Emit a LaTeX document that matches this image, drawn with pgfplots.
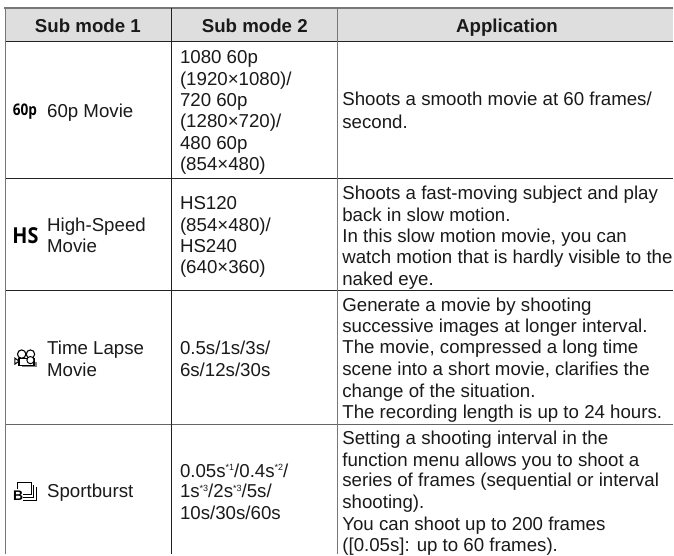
\documentclass[border=0pt]{standalone}
\usepackage{graphicx}
\usepackage{fontspec}
\setmainfont{Liberation Sans}
\newfontfamily\iconfont{Open Sans}
\usepackage{pgfplots}
\pgfplotsset{compat=1.18}
\definecolor{hdr}{HTML}{DEDEDE}
\definecolor{txt}{HTML}{1A1A1A}
\definecolor{dk}{HTML}{222222}
\definecolor{mid}{HTML}{777777}
\newcommand{\T}[3]{\node[anchor=base west,inner sep=0pt,text=txt,font=\fontsize{18.7}{21}\selectfont,yshift=-0.8pt] at (axis cs:#1,#2) {#3};}
\newcommand{\Hd}[3]{\node[anchor=base,inner sep=0pt,text=txt,font=\fontsize{18.7}{21}\selectfont\bfseries,yshift=-0.5pt] at (axis cs:#1,#2) {#3};}
\newcommand{\su}[1]{\raisebox{6.5pt}{\fontsize{9}{9}\selectfont *#1}}
\begin{document}
\begin{tikzpicture}
\begin{axis}[
  scale only axis, width=674pt, height=555pt,
  xmin=0, xmax=674, ymin=0, ymax=555, y dir=reverse,
  hide axis, clip=false]
% background
\addplot[draw=none, fill=white] coordinates {(0,0) (674,0) (674,555) (0,555)} -- cycle;
% header band
\addplot[draw=none, fill=hdr] coordinates {(5,8) (674,8) (674,41) (5,41)} -- cycle;
% horizontal rules
\addplot[draw=mid, line width=1.4pt] coordinates {(4,8) (674,8)};
\addplot[draw=dk, line width=1pt] coordinates {(5,41.5) (674,41.5)};
\addplot[draw=dk, line width=0.9pt] coordinates {(5,179) (674,179)};
\addplot[draw=dk, line width=0.9pt] coordinates {(5,291) (674,291)};
\addplot[draw=mid!85!black, line width=1pt] coordinates {(5,425) (674,425)};
% vertical rules
\addplot[draw=mid, line width=1.4pt] coordinates {(5.3,8) (5.3,555)};
\addplot[draw=dk, line width=0.9pt] coordinates {(171.5,8) (171.5,555)};
\addplot[draw=mid, line width=1.4pt] coordinates {(338,8) (338,555)};
% headers
\Hd{88}{32}{Sub mode 1}
\Hd{255}{32}{Sub mode 2}
\Hd{507.5}{32}{Application}
% column 1
\T{47}{116.7}{60p Movie}
\T{47}{231}{High-Speed}
\T{47}{252}{Movie}
\T{47}{354}{Time Lapse}
\T{47}{376}{Movie}
\T{47}{497.7}{Sportburst}
% column 2
\T{180}{63}{1080 60p}
\T{180}{84.5}{(1920×1080)/}
\T{180}{106}{720 60p}
\T{180}{127}{(1280×720)/}
\T{180}{148.5}{480 60p}
\T{180}{170}{(854×480)}
\T{180}{209}{HS120}
\T{180}{231}{(854×480)/}
\T{180}{252}{HS240}
\T{180}{273}{(640×360)}
\T{180}{354}{0.5s/1s/3s/}
\T{180}{376}{6s/12s/30s}
\T{180}{476.7}{0.05s\su{1}/0.4s\su{2}/}
\T{180}{497.7}{1s\su{3}/2s\su{3}/5s/}
\T{180}{519}{10s/30s/60s}
% column 3
\T{342.5}{105}{Shoots a smooth movie at 60 frames/}
\T{342.5}{127.6}{second.}
\T{342.5}{199}{Shoots a fast-moving subject and play}
\T{342.5}{220.7}{back in slow motion.}
\T{342.5}{242}{In this slow motion movie, you can}
\T{342.5}{263}{watch motion that is hardly visible to the}
\T{342.5}{285}{naked eye.}
\T{342.5}{311}{Generate a movie by shooting}
\T{342.5}{332}{successive images at longer interval.}
\T{342.5}{353.5}{The movie, compressed a long time}
\T{342.5}{375}{scene into a short movie, clarifies the}
\T{342.5}{396.7}{change of the situation.}
\T{342.5}{417.7}{The recording length is up to 24 hours.}
\T{342.5}{444}{Setting a shooting interval in the}
\T{342.5}{465.7}{function menu allows you to shoot a}
\T{342.5}{486.7}{series of frames (sequential or interval}
\T{342.5}{508}{shooting).}
\T{342.5}{530}{You can shoot up to 200 frames}
\T{342.5}{551}{([0.05s]: up to 60 frames).}
% icons
\node[anchor=base,inner sep=0pt,text=black,font=\iconfont\fontsize{16}{17}\selectfont\bfseries] at (axis cs:25,116) {\scalebox{0.85}[1]{60p}};
\node[anchor=base,inner sep=0pt,text=black,font=\iconfont\fontsize{22}{23}\selectfont\bfseries] at (axis cs:25.5,243.5) {\scalebox{0.9}[1]{HS}};
% time lapse camera
\draw[black, line width=1.1pt] (axis cs:21.7,354.5) circle[radius=4.2pt];
\draw[black, line width=1.1pt] (axis cs:30.5,354.5) circle[radius=4.2pt];
\fill[gray] (axis cs:22,362) rectangle (axis cs:37.5,367.5);
\draw[black, line width=1.1pt, fill=white] (axis cs:19,358.5) rectangle (axis cs:34,365.5);
\draw[black, line width=1pt, fill=white] (axis cs:30.5,360.5) circle[radius=3.6pt];
\draw[black, line width=1pt] (axis cs:19,361.5) -- (axis cs:15,358.5) -- (axis cs:15,364.5) -- cycle;
% sportburst
\draw[black, line width=0.9pt] (axis cs:17,490) -- (axis cs:17,483) -- (axis cs:31,483) -- (axis cs:31,495) -- (axis cs:23,495);
\draw[black, line width=0.9pt] (axis cs:33.5,486) -- (axis cs:33.5,497.5) -- (axis cs:23,497.5);
\draw[black, line width=0.9pt] (axis cs:36.5,488) -- (axis cs:36.5,500.5) -- (axis cs:23,500.5);
\node[anchor=base,inner sep=0pt,text=black,font=\fontsize{14}{15}\selectfont\bfseries] at (axis cs:18.2,501.5) {B};
\end{axis}
\end{tikzpicture}
\end{document}
